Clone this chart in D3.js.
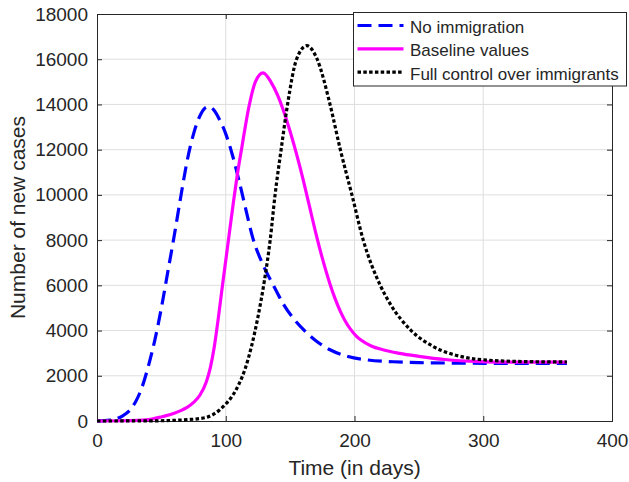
<!DOCTYPE html>
<html>
<head>
<meta charset="utf-8">
<script src="https://cdn.jsdelivr.net/npm/d3@7"></script>
<style>
  body { margin: 0; background: #fff; }
  text { font-family: "Liberation Sans", Arial, sans-serif; fill: #262626; }
</style>
</head>
<body>
<div class="chart"></div>
<script>
// curves: [day, new cases]
const noImmigration = [[0,0],[10,40],[20,230],[25,450],[30,850],[35,1500],[40,2450],[45,3600],[50,5000],[55,6600],[60,8200],[65,9900],[70,11500],[75,12700],[80,13500],[85,13880],[87,13900],[90,13800],[95,13350],[100,12700],[105,11800],[110,10700],[115,9500],[121,8100],[129,6900],[137,6000],[145,5150],[153,4500],[162,3950],[170,3550],[181,3150],[195,2850],[210,2700],[230,2620],[250,2580],[280,2560],[320,2550],[365,2550]];
const baseline = [[0,0],[20,10],[40,60],[51,200],[60,340],[65,460],[70,600],[75,820],[80,1150],[85,1750],[88,2350],[91,3250],[94,4450],[97,5800],[100,7100],[103,8400],[106,9700],[109,10900],[112.5,12100],[118,13900],[123,15000],[129,15400],[135,15000],[140,14450],[145,13700],[150,12800],[155,11800],[160,10700],[165,9500],[170,8300],[175,7200],[181,6050],[185,5400],[189,4850],[193,4400],[197,4050],[201,3780],[205,3580],[213,3320],[222,3150],[235,2990],[250,2860],[270,2720],[297,2630],[330,2600],[365,2600]];
const fullControl = [[0,0],[40,5],[60,30],[70,60],[80,110],[85,160],[90,280],[95,480],[100,750],[105,1100],[110,1600],[115,2300],[120,3300],[125,4600],[130,6200],[134.5,8000],[138.3,10000],[143,12000],[148,14000],[155,16000],[163,16600],[171,16000],[181,14000],[189,12000],[198,10000],[206.8,8000],[220,6000],[227.5,5200],[244,4000],[261,3300],[284,2835],[305,2686],[330,2630],[365,2610]];

const seriesNames = ["No immigration", "Baseline values", "Full control over immigrants"];
const xTicks = [0, 100, 200, 300, 400];
const yTicks = [0, 2000, 4000, 6000, 8000, 10000, 12000, 14000, 16000, 18000];

const W = 629, H = 482;
const margin = { top: 14, right: 17, bottom: 61, left: 97 };
const width = W - margin.left - margin.right,
    height = H - margin.top - margin.bottom;

let svg = d3.select(".chart").append("svg")
    .attr("width", W)
    .attr("height", H)
    .append("g")
    .attr("transform", "translate(" + margin.left + "," + margin.top + ")");

let xScale = d3.scaleLinear().domain([0, 400]).range([0, width]);
let yScale = d3.scaleLinear().domain([0, 18000]).range([height, 0]);

// grid
svg.append("g").selectAll("line")
    .data(xTicks.slice(1, -1))
    .join("line")
    .attr("x1", d => xScale(d)).attr("x2", d => xScale(d))
    .attr("y1", 0).attr("y2", height)
    .attr("stroke", "#dedede").attr("stroke-width", 1);
svg.append("g").selectAll("line")
    .data(yTicks.slice(1, -1))
    .join("line")
    .attr("y1", d => yScale(d)).attr("y2", d => yScale(d))
    .attr("x1", 0).attr("x2", width)
    .attr("stroke", "#dedede").attr("stroke-width", 1);

// axes, ticks inward like matlab
let xAxis = d3.axisBottom(xScale).tickValues(xTicks).tickSize(-5).tickPadding(13).tickFormat(d3.format("d"));
let yAxis = d3.axisLeft(yScale).tickValues(yTicks).tickSize(-5).tickPadding(9).tickFormat(d3.format("d"));
let xTop = d3.axisTop(xScale).tickValues(xTicks).tickSize(-5).tickFormat("");
let yRight = d3.axisRight(yScale).tickValues(yTicks).tickSize(-5).tickFormat("");

svg.append("g").attr("class", "axis x-axis").attr("transform", `translate(0, ${height})`).call(xAxis);
svg.append("g").attr("class", "axis y-axis").call(yAxis);
svg.append("g").attr("class", "axis").call(xTop);
svg.append("g").attr("class", "axis").attr("transform", `translate(${width}, 0)`).call(yRight);

svg.selectAll(".axis path, .axis line").attr("stroke", "#262626");
svg.selectAll(".axis text").attr("font-size", 19).attr("fill", "#262626")
    .style("font-family", "'Liberation Sans', Arial, sans-serif");

// labels
svg.append("text")
    .attr("x", width / 2).attr("y", 475 - margin.top)
    .attr("text-anchor", "middle").attr("font-size", 21)
    .text("Time (in days)");
svg.append("text")
    .attr("transform", `translate(${25 - margin.left}, ${height / 2}) rotate(-90)`)
    .attr("text-anchor", "middle").attr("font-size", 21)
    .text("Number of new cases");

// lines
let line = d3.line()
    .x(d => xScale(d[0]))
    .y(d => yScale(d[1]))
    .curve(d3.curveMonotoneX);

const styles = [
    { data: noImmigration, color: "#0000ff", dash: "14,7" },
    { data: baseline, color: "#ff00ff", dash: null },
    { data: fullControl, color: "#000000", dash: "3.5,2.3" }
];

styles.forEach(s => {
    svg.append("path")
        .datum(s.data)
        .attr("fill", "none")
        .attr("stroke", s.color)
        .attr("stroke-width", 3.2)
        .attr("stroke-dasharray", s.dash)
        .attr("d", line);
});

// legend
let leg = svg.append("g").attr("transform", `translate(${353.5 - margin.left}, ${12.5 - margin.top})`);
leg.append("rect")
    .attr("width", 273).attr("height", 73.5)
    .attr("fill", "#fff").attr("stroke", "#262626").attr("stroke-width", 1);
styles.forEach((s, i) => {
    let ly = 13 + i * 23.3;
    leg.append("line")
        .attr("x1", 4).attr("x2", 50)
        .attr("y1", ly).attr("y2", ly)
        .attr("stroke", s.color).attr("stroke-width", 3.2)
        .attr("stroke-dasharray", s.dash);
    leg.append("text")
        .attr("x", 56.5).attr("y", ly + 7.5)
        .attr("font-size", 17)
        .text(seriesNames[i]);
});
</script>
</body>
</html>
